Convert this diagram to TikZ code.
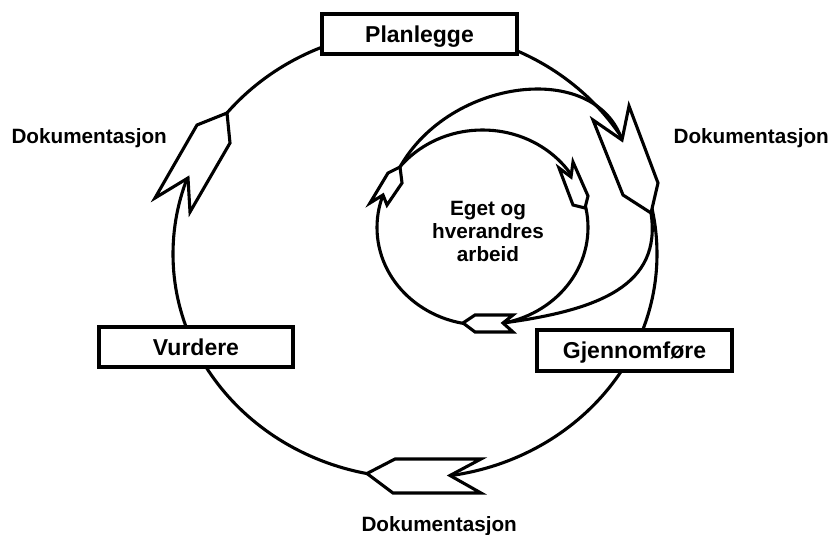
\documentclass[tikz,border=0pt]{standalone}
\usepackage{fontspec}
\setmainfont{Liberation Sans}
\begin{document}
\begin{tikzpicture}[x=1pt,y=-1pt, line width=3.1pt, line join=miter,
  boxstyle/.style={draw, fill=white, minimum width=195pt, minimum height=40pt, inner sep=0pt,
    font=\fontsize{23}{27}\selectfont\bfseries, text height=16.5pt, text depth=0pt},
  lbl/.style={font=\fontsize{20.7}{24}\selectfont\bfseries, inner sep=0pt},
  arrowshape/.style={draw, fill=white}]
\useasboundingbox (0,0) rectangle (828,535);

% big cycle
\draw (415,254) ellipse [x radius=242, y radius=224];
% inner cycle
\draw (482.5,227.5) ellipse [x radius=105.5, y radius=97.5];

% arrow vertices: big left
\coordinate (LT) at (227,113);
\coordinate (LA) at (197,125);
\coordinate (LB) at (155,198);
\coordinate (LN) at (188,178);
\coordinate (LC) at (190,212);
\coordinate (LD) at (230,143);
% big right
\coordinate (RA) at (593,120);
\coordinate (RN) at (622,140);
\coordinate (RB) at (629,106);
\coordinate (RC) at (658,183);
\coordinate (RT) at (651,213);
\coordinate (RD) at (623,195);
% big bottom
\coordinate (BA) at (395,459);
\coordinate (BT) at (367,473.5);
\coordinate (BB) at (393,493);
\coordinate (BC) at (481,493);
\coordinate (BN) at (450,475.5);
\coordinate (BD) at (481,459);
% inner left
\coordinate (ILT) at (400,167);
\coordinate (ILA) at (388,173);
\coordinate (ILB) at (370,203);
\coordinate (ILN) at (383,195);
\coordinate (ILC) at (387,205);
\coordinate (ILD) at (402,183);
% inner right
\coordinate (IRA) at (559,168);
\coordinate (IRN) at (571,177);
\coordinate (IRB) at (573,162);
\coordinate (IRC) at (588,196);
\coordinate (IRT) at (585,208);
\coordinate (IRD) at (573,205);
% inner bottom
\coordinate (IBT) at (463,323);
\coordinate (IBA) at (475,315);
\coordinate (IBB) at (513,315);
\coordinate (IBN) at (503,323);
\coordinate (IBC) at (513,332);
\coordinate (IBD) at (475,332);

% connecting curves
\draw (ILT) .. controls (450,78) and (595,60) .. (RN);
\draw (RT) .. controls (662,285) and (600,310) .. (IBN);

% arrows
\draw[arrowshape] (LT) -- (LA) -- (LB) -- (LN) -- (LC) -- (LD) -- cycle;
\draw[arrowshape] (RA) -- (RN) -- (RB) -- (RC) -- (RT) -- (RD) -- cycle;
\draw[arrowshape] (BA) -- (BT) -- (BB) -- (BC) -- (BN) -- (BD) -- cycle;
\draw[arrowshape] (ILT) -- (ILA) -- (ILB) -- (ILN) -- (ILC) -- (ILD) -- cycle;
\draw[arrowshape] (IRA) -- (IRN) -- (IRB) -- (IRC) -- (IRT) -- (IRD) -- cycle;
\draw[arrowshape] (IBT) -- (IBA) -- (IBB) -- (IBN) -- (IBC) -- (IBD) -- cycle;

% boxes
\node[boxstyle] (plan) at (419.5,34) {Planlegge};
\node[boxstyle, minimum width=194pt] (vurd) at (196,347) {Vurdere};
\node[boxstyle, minimum height=41pt] (gjen) at (634.5,350.5) {Gjennomføre};

% labels
\node[lbl, anchor=base west] (dl) at (10,143) {Dokumentasjon};
\node[lbl, anchor=base west] (dr) at (672,143) {Dokumentasjon};
\node[lbl, anchor=base west] (db) at (360,531) {Dokumentasjon};
\node[lbl, align=center, font=\fontsize{20.7}{23}\selectfont\bfseries] (inner) at (488,231) {Eget og\\hverandres\\arbeid};
\end{tikzpicture}
\end{document}
